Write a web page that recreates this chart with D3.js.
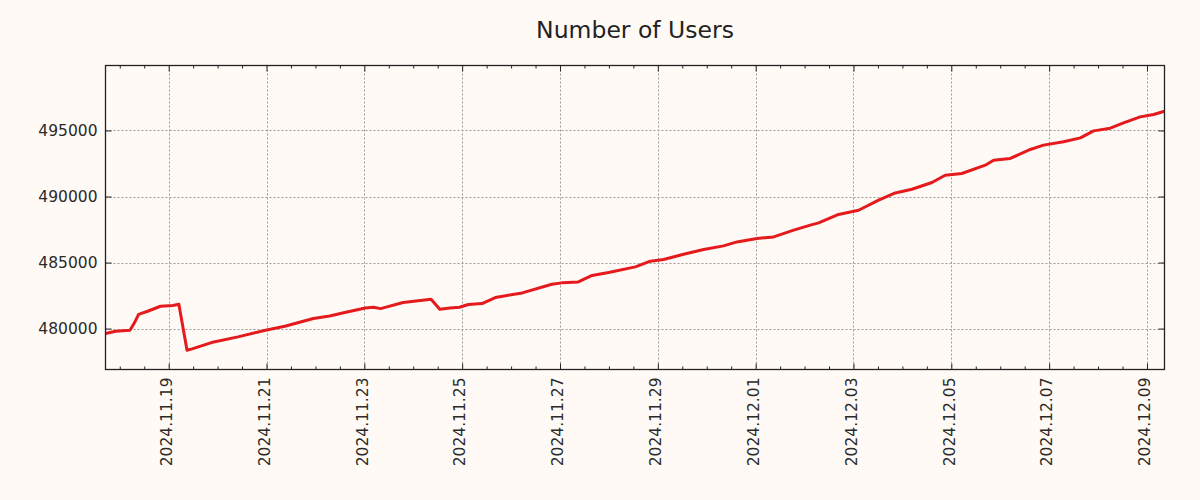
<!DOCTYPE html>
<html>
<head>
<meta charset="utf-8">
<script src="https://cdn.jsdelivr.net/npm/d3@7"></script>
<style>
  html, body { margin: 0; padding: 0; background: #fffaf6; }
  svg { display: block; }
</style>
</head>
<body>
<svg id="chart" width="1200" height="500"></svg>
<script>
const title = "Number of Users";
const times = [
  "2024-11-17T17:00","2024-11-17T22:00","2024-11-18T05:00","2024-11-18T07:00","2024-11-18T09:15",
  "2024-11-18T14:00","2024-11-18T20:00","2024-11-19T02:00","2024-11-19T05:00","2024-11-19T09:00",
  "2024-11-19T11:30","2024-11-19T21:00","2024-11-20T10:00","2024-11-20T23:30","2024-11-21T09:00",
  "2024-11-21T23:00","2024-11-22T07:00","2024-11-22T15:30","2024-11-23T00:30","2024-11-23T04:30",
  "2024-11-23T08:00","2024-11-23T19:00","2024-11-24T03:30","2024-11-24T08:45","2024-11-24T13:00",
  "2024-11-24T18:00","2024-11-24T22:45","2024-11-25T03:00","2024-11-25T09:45","2024-11-25T16:15",
  "2024-11-26T05:30","2024-11-26T20:00","2024-11-27T01:00","2024-11-27T09:00","2024-11-27T15:45",
  "2024-11-27T23:50","2024-11-28T13:00","2024-11-28T20:20","2024-11-29T02:50","2024-11-29T12:40",
  "2024-11-29T22:30","2024-11-30T08:15","2024-11-30T14:50","2024-12-01T00:40","2024-12-01T08:50",
  "2024-12-01T18:40","2024-12-02T02:50","2024-12-02T06:55","2024-12-02T16:40","2024-12-03T02:30",
  "2024-12-03T12:20","2024-12-03T20:30","2024-12-04T04:40","2024-12-04T14:30","2024-12-04T21:00",
  "2024-12-05T05:10","2024-12-05T16:40","2024-12-05T20:45","2024-12-06T04:55","2024-12-06T14:45",
  "2024-12-06T21:15","2024-12-07T07:05","2024-12-07T15:20","2024-12-07T21:50","2024-12-08T06:00",
  "2024-12-08T12:30","2024-12-08T20:40","2024-12-09T03:15","2024-12-09T08:36"
];
const users = [
  479620,479800,479870,480380,481080,
  481330,481690,481740,481840,478360,
  478460,478940,479370,479870,480170,
  480760,480950,481260,481560,481610,
  481510,481970,482120,482220,481460,
  481560,481610,481820,481890,482350,
  482700,483360,483460,483530,484020,
  484240,484670,485100,485230,485630,
  485990,486260,486560,486820,486940,
  487450,487830,488000,488640,488960,
  489720,490270,490550,491060,491610,
  491740,492370,492750,492880,493560,
  493890,494140,494440,494970,495170,
  495580,496030,496210,496460
];
const yTicks = [480000, 485000, 490000, 495000];
const xTickLabels = ["2024.11.19","2024.11.21","2024.11.23","2024.11.25","2024.11.27","2024.11.29",
                     "2024.12.01","2024.12.03","2024.12.05","2024.12.07","2024.12.09"];

(function () {
const parseT = d3.timeParse("%Y-%m-%dT%H:%M");
const parseLabel = d3.timeParse("%Y.%m.%d");
const data = times.map((t, i) => ({ t: parseT(t), v: users[i] }));

const svg = d3.select("#chart");
const W = 1200, H = 500;
const m = { left: 105.5, right: 1164.5, top: 65.5, bottom: 369.5 };

svg.append("rect").attr("width", W).attr("height", H).attr("fill", "#fffaf6");

const x = d3.scaleTime().domain(d3.extent(data, d => d.t)).range([m.left, m.right]);
const y = d3.scaleLinear().domain([476900, 499920]).range([m.bottom, m.top]);

const majorX = xTickLabels.map(s => parseLabel(s));
const [d0, d1] = x.domain();
const minorX = d3.timeHour.every(12).range(d0, d1).filter(d => !majorX.some(mx => +mx === +d));

const font = "DejaVu Sans, sans-serif";
const gridColor = "#9a9a9a";

const grid = svg.append("g");
grid.selectAll(".gx").data(majorX).join("line")
  .attr("x1", d => Math.round(x(d)) + 0.5).attr("x2", d => Math.round(x(d)) + 0.5)
  .attr("y1", m.top).attr("y2", m.bottom)
  .attr("stroke", gridColor).attr("stroke-width", 1).attr("stroke-dasharray", "2,2");
grid.selectAll(".gy").data(yTicks).join("line")
  .attr("x1", m.left).attr("x2", m.right)
  .attr("y1", d => Math.round(y(d)) + 0.5).attr("y2", d => Math.round(y(d)) + 0.5)
  .attr("stroke", gridColor).attr("stroke-width", 1).attr("stroke-dasharray", "2,2");

const line = d3.line().x(d => x(d.t)).y(d => y(d.v));
svg.append("path").datum(data)
  .attr("d", line).attr("fill", "none")
  .attr("stroke", "#e41a1c").attr("stroke-width", 3)
  .attr("stroke-linejoin", "round");

const tickColor = "#222";
function styleAxis(g) {
  g.select(".domain").remove();
  g.selectAll(".tick line").attr("stroke", tickColor).attr("stroke-width", 1);
}
const fmtNum = d3.format("d");

const bottomAx = svg.append("g").attr("transform", `translate(0,${m.bottom})`)
  .call(d3.axisBottom(x).tickValues(majorX).tickSize(-6).tickPadding(0).tickFormat(d3.timeFormat("%Y.%m.%d")));
styleAxis(bottomAx);
bottomAx.selectAll(".tick text")
  .attr("transform", "rotate(-90)")
  .attr("x", -8).attr("y", 0).attr("dy", "0.18em")
  .attr("text-anchor", "end")
  .attr("font-family", font).attr("font-size", "15.5px").attr("fill", "#2a2a2a");
const bottomMinor = svg.append("g").attr("transform", `translate(0,${m.bottom})`)
  .call(d3.axisBottom(x).tickValues(minorX).tickSize(-3).tickFormat(""));
styleAxis(bottomMinor);
const topAx = svg.append("g").attr("transform", `translate(0,${m.top})`)
  .call(d3.axisTop(x).tickValues(majorX).tickSize(-6).tickFormat(""));
styleAxis(topAx);
const topMinor = svg.append("g").attr("transform", `translate(0,${m.top})`)
  .call(d3.axisTop(x).tickValues(minorX).tickSize(-3).tickFormat(""));
styleAxis(topMinor);
const leftAx = svg.append("g").attr("transform", `translate(${m.left},0)`)
  .call(d3.axisLeft(y).tickValues(yTicks).tickSize(-6).tickPadding(8).tickFormat(fmtNum));
styleAxis(leftAx);
leftAx.selectAll(".tick text").attr("x", -8)
  .attr("font-family", font).attr("font-size", "15.5px").attr("fill", "#2a2a2a");
const rightAx = svg.append("g").attr("transform", `translate(${m.right},0)`)
  .call(d3.axisRight(y).tickValues(yTicks).tickSize(-6).tickFormat(""));
styleAxis(rightAx);

svg.append("rect")
  .attr("x", m.left).attr("y", m.top)
  .attr("width", m.right - m.left).attr("height", m.bottom - m.top)
  .attr("fill", "none").attr("stroke", "#222").attr("stroke-width", 1.3);

svg.append("text")
  .attr("x", 635).attr("y", 38)
  .attr("text-anchor", "middle")
  .attr("font-family", font).attr("font-size", "23.5px").attr("fill", "#222")
  .text(title);
})();
</script>
</body>
</html>
